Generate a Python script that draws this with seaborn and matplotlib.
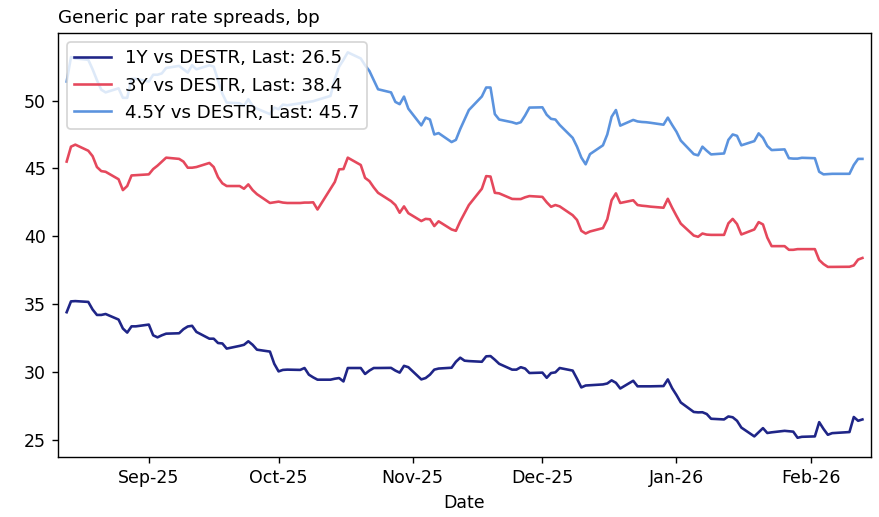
import matplotlib
matplotlib.use("Agg")
import matplotlib.pyplot as plt
import matplotlib.dates as mdates
import numpy as np
import pandas as pd
import seaborn as sns

# business days, mid-Aug 2025 to mid-Feb 2026
dates = pd.bdate_range("2025-08-13", "2026-02-13")

# 1Y vs DESTR spread, bp
y1 = [34.4, 35.2, 35.22, 35.16, 34.6, 34.2, 34.2, 34.27, 33.86, 33.2, 32.9, 33.36, 33.36,
      33.49, 32.7, 32.55, 32.7, 32.82, 32.85, 33.15, 33.35, 33.4, 32.95, 32.45, 32.45, 32.13,
      32.1, 31.72, 31.92, 32.0, 32.26, 32.0, 31.64, 31.5, 30.6,
      30.04, 30.15, 30.17, 30.15, 30.29, 29.8, 29.6, 29.43, 29.43, 29.5, 29.55, 29.3, 30.29,
      30.29, 29.85, 30.1, 30.29, 30.29, 30.3, 30.1, 29.95, 30.45, 30.35,
      29.45, 29.55, 29.8, 30.17, 30.25, 30.31, 30.75, 31.05, 30.83, 30.8, 30.75, 31.15, 31.17,
      30.9, 30.6, 30.17, 30.17, 30.35, 30.25, 29.92,
      29.95, 29.57, 29.92, 29.97, 30.29, 30.1, 29.5, 28.86, 29.0, 29.02, 29.08, 29.15, 29.38,
      29.2, 28.78, 29.35, 28.94, 28.94, 28.94, 28.94, 28.96, 29.45, 28.8,
      28.3, 27.75, 27.05, 27.02, 27.03, 26.9, 26.55, 26.5, 26.72, 26.66, 26.4, 25.9, 25.25,
      25.55, 25.86, 25.5, 25.55, 25.66, 25.63, 25.6, 25.15, 25.22,
      25.25, 26.3, 25.8, 25.37, 25.49, 25.55, 25.57, 26.68, 26.4, 26.5]

# 3Y vs DESTR spread, bp
y3 = [45.5, 46.6, 46.75, 46.3, 45.9, 45.1, 44.8, 44.75, 44.2, 43.4, 43.7, 44.48, 44.5,
      44.56, 44.95, 45.2, 45.5, 45.79, 45.7, 45.5, 45.05, 45.05, 45.1, 45.4, 45.1, 44.35,
      43.9, 43.7, 43.7, 43.5, 43.82, 43.4, 43.1, 42.45, 42.5,
      42.55, 42.48, 42.45, 42.45, 42.48, 42.48, 42.5, 41.97, 43.5, 44.0, 44.93, 44.95, 45.79,
      45.25, 44.3, 44.06, 43.6, 43.2, 42.59, 42.3, 41.73, 42.2, 41.7,
      41.12, 41.28, 41.25, 40.75, 41.1, 40.5, 40.4, 41.1, 41.7, 42.3, 43.5, 44.43, 44.4,
      43.2, 43.16, 42.75, 42.74, 42.74, 42.87, 42.96,
      42.9, 42.5, 42.17, 42.3, 42.2, 41.55, 41.2, 40.4, 40.2, 40.35, 40.6, 41.25, 42.65,
      43.16, 42.45, 42.65, 42.3, 42.25, 42.22, 42.18, 42.1, 42.76, 42.1,
      41.5, 40.93, 40.05, 39.96, 40.2, 40.12, 40.1, 40.1, 40.95, 41.28, 40.9, 40.13, 40.5,
      41.04, 40.87, 39.9, 39.27, 39.27, 39.0, 39.0, 39.05, 39.05,
      39.05, 38.25, 37.95, 37.74, 37.74, 37.75, 37.75, 37.85, 38.28, 38.4]

# 4.5Y vs DESTR spread, bp
y45 = [51.4, 53.2, 53.1, 53.0, 52.3, 51.5, 50.8, 50.6, 50.9, 50.2, 50.2, 51.6, 51.6,
       51.4, 51.9, 51.9, 52.0, 52.4, 52.55, 52.3, 52.06, 52.6, 52.3, 52.6, 52.5, 51.5,
       50.5, 49.85, 49.8, 49.6, 50.1, 49.6, 49.4, 49.0, 49.48,
       49.36, 49.7, 49.65, 49.8, 49.85, 49.9, 49.95, 50.05, 50.34, 51.6, 52.5, 53.0, 53.55,
       53.1, 52.6, 52.18, 51.5, 50.83, 50.6, 49.9, 49.73, 50.29, 49.4,
       48.17, 48.74, 48.6, 47.5, 47.6, 46.94, 47.1, 47.9, 48.6, 49.3, 50.3, 50.96, 50.96,
       49.0, 48.6, 48.4, 48.3, 48.4, 48.9, 49.48,
       49.5, 48.95, 48.65, 48.6, 48.2, 47.25, 46.6, 45.8, 45.3, 46.05, 46.7, 47.5, 48.8,
       49.3, 48.15, 48.57, 48.46, 48.42, 48.4, 48.36, 48.22, 48.74, 48.2,
       47.7, 47.05, 46.05, 45.96, 46.6, 46.3, 46.03, 46.1, 47.1, 47.5, 47.4, 46.7, 47.01,
       47.58, 47.25, 46.65, 46.35, 46.4, 45.75, 45.72, 45.72, 45.78,
       45.75, 44.75, 44.56, 44.58, 44.6, 44.6, 44.6, 45.25, 45.7, 45.7]

names = ["1Y vs DESTR", "3Y vs DESTR", "4.5Y vs DESTR"]
colors = ["#1f2587", "#e5485c", "#5b93de"]

fig, ax = plt.subplots(figsize=(879 / 125, 517 / 125), dpi=125)
fig.subplots_adjust(left=0.066, right=0.991, bottom=0.116, top=0.936)

for name, vals, c in zip(names, [y1, y3, y45], colors):
    sns.lineplot(x=dates, y=vals, color=c, linewidth=1.5,
                 label=f"{name}, Last: {vals[-1]:.1f}", ax=ax)

ax.set_xlim(dates[0] - pd.Timedelta(days=2), dates[-1] + pd.Timedelta(days=2))
ax.xaxis.set_major_locator(mdates.MonthLocator())
ax.xaxis.set_major_formatter(mdates.DateFormatter("%b-%y"))
ax.set_xlabel("Date")
ax.set_ylabel("")
ax.set_title("Generic par rate spreads, bp", loc="left", fontsize=10.5)
ax.legend(loc="upper left", fontsize=10.5)

plt.savefig("out.png", dpi=125)
